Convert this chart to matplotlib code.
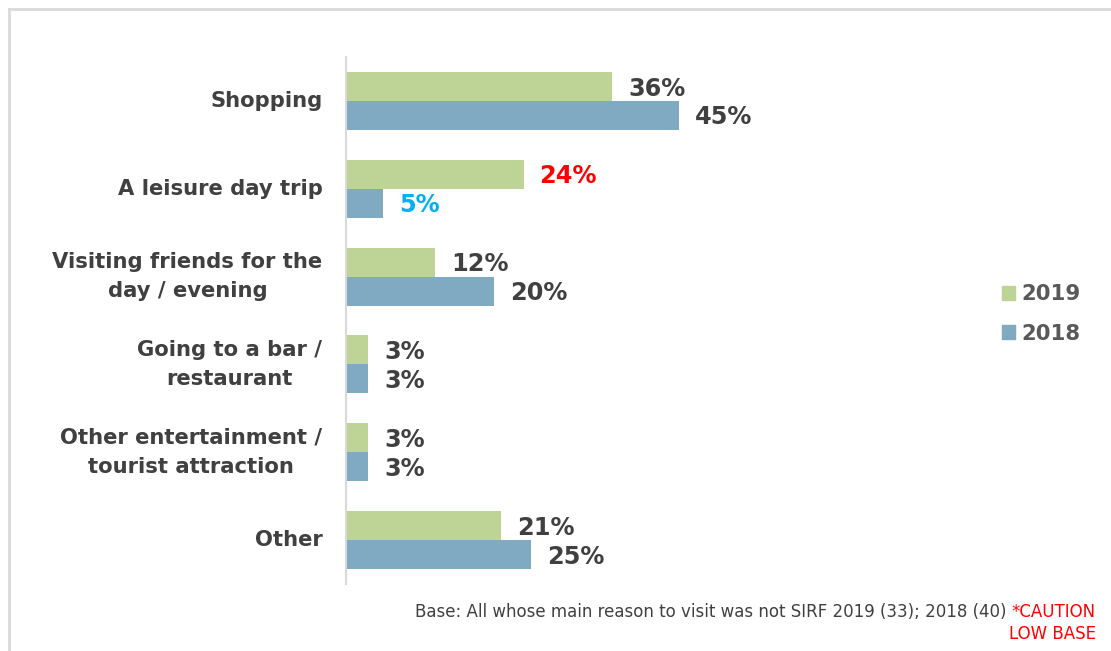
import matplotlib
matplotlib.use("Agg")
import matplotlib.pyplot as plt
from matplotlib.patches import Patch
from matplotlib.lines import Line2D

# reasons for visiting, top to bottom
categories = ["Shopping", "A leisure day trip", "Visiting friends for the\nday / evening",
              "Going to a bar /\nrestaurant", "Other entertainment /\ntourist attraction", "Other"]
vals_2019 = [36, 24, 12, 3, 3, 21]
vals_2018 = [45, 5, 20, 3, 3, 25]
# highlighted labels (significant changes)
colors_2019 = ["#404040", "#FF0000", "#404040", "#404040", "#404040", "#404040"]
colors_2018 = ["#404040", "#00B0F0", "#404040", "#404040", "#404040", "#404040"]

green = "#BED396"
blue = "#7FAAC1"
txt = "#404040"

W, H = 1111, 651
fig = plt.figure(figsize=(W / 100, H / 100), dpi=100)
ax = fig.add_axes([346 / W, 67 / H, 370 / W, 527 / H])

y = list(range(len(categories)))
bh = 0.33
ax.barh([i - bh / 2 for i in y], vals_2019, height=bh, color=green, label="2019")
ax.barh([i + bh / 2 for i in y], vals_2018, height=bh, color=blue, label="2018")

for i in y:
    ax.annotate(f"{vals_2019[i]}%", (vals_2019[i], i - bh / 2), xytext=(11.5, -1.5),
                textcoords="offset points", va="center", ha="left",
                fontsize=17.3, fontweight="bold", color=colors_2019[i])
    ax.annotate(f"{vals_2018[i]}%", (vals_2018[i], i + bh / 2), xytext=(11.5, -1.5),
                textcoords="offset points", va="center", ha="left",
                fontsize=17.3, fontweight="bold", color=colors_2018[i])

ax.set_xlim(0, 50)
ax.set_ylim(len(categories) - 0.5, -0.5)
ax.set_yticks(y)
ax.set_yticklabels(categories, fontsize=15.2, fontweight="bold", color=txt,
                   multialignment="center", linespacing=1.55)
for lab in ax.get_yticklabels():
    lab.set_verticalalignment("center")
ax.tick_params(axis="y", length=0, pad=17)
ax.set_xticks([])
for s in ["top", "right", "bottom"]:
    ax.spines[s].set_visible(False)
ax.spines["left"].set_color("#D9D9D9")
ax.spines["left"].set_linewidth(1.5)

handles = [Patch(color=green, label="2019"), Patch(color=blue, label="2018")]
fig.legend(handles=handles, loc="center left", bbox_to_anchor=(983 / W, 1 - 314 / H),
           frameon=False, handlelength=0.62, handleheight=0.62, handletextpad=0.3,
           labelspacing=0.9, prop={"size": 15.3, "weight": "bold"}, labelcolor="#595959")

# outer frame
fig.add_artist(Line2D([9 / W, 1], [1 - 9 / H, 1 - 9 / H], color="#D9D9D9", lw=2))
fig.add_artist(Line2D([9 / W, 9 / W], [0, 1 - 9 / H], color="#D9D9D9", lw=2))

# footnote
fig.canvas.draw()
r = fig.canvas.get_renderer()
caution = fig.text(1096 / W, 1 - 612 / H, "*CAUTION", ha="right", va="center",
                   fontsize=12, color="#FF0000")
fig.text(1096 / W, 1 - 634 / H, "LOW BASE", ha="right", va="center",
         fontsize=12, color="#FF0000")
bb = caution.get_window_extent(r)
fig.text((bb.x0 - 5) / W, 1 - 612 / H,
         "Base: All whose main reason to visit was not SIRF 2019 (33); 2018 (40)",
         ha="right", va="center", fontsize=12, color=txt)

fig.savefig("out.png", dpi=100)
